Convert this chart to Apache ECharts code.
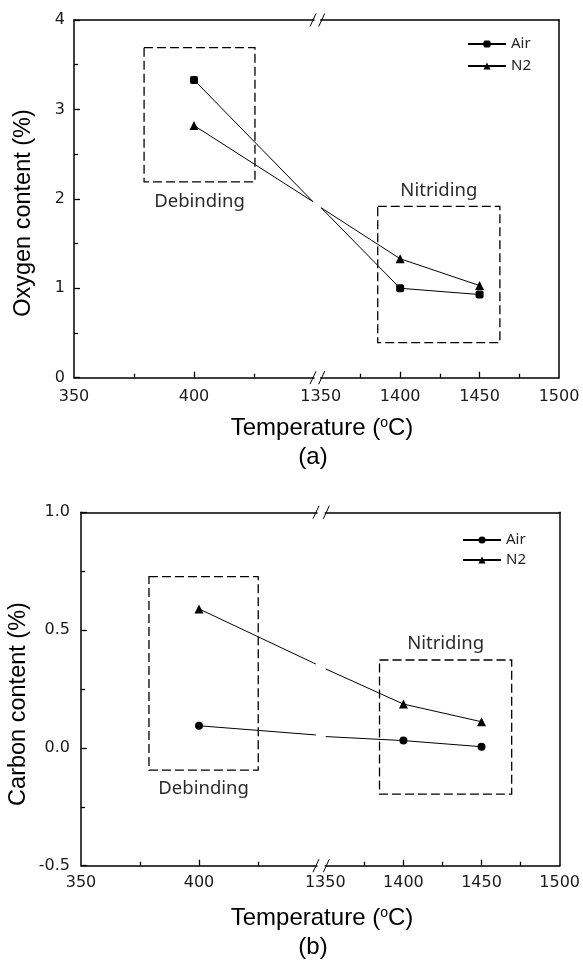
<!DOCTYPE html>
<html>
<head>
<meta charset="utf-8">
<script src="https://cdn.jsdelivr.net/npm/echarts@6.0.0/dist/echarts.min.js"></script>
<style>
  html, body { margin: 0; padding: 0; background: #fff; }
  #chartA { width: 583px; height: 483px; }
  #chartB { width: 583px; height: 480px; }
</style>
</head>
<body>
<div id="chartA"></div>
<div id="chartB"></div>
<script>
// shared x values (temperature, C)
var temps = [400, 1400, 1450];
var xLeftLabels = [350, 400];
var xRightLabels = [1350, 1400, 1450, 1500];
// where the lines get cut by the axis break (left side, right side)
var cutTemps = [449.5, 1350.3];

// (a) oxygen content
var oxygenAir = [3.33, 1.00, 0.93];
var oxygenN2 = [2.82, 1.33, 1.03];
var oxygenAirCut = [1.97, 1.90];
var oxygenN2Cut = [1.97, 1.90];

// (b) carbon content
var carbonAir = [0.094, 0.031, 0.005];
var carbonN2 = [0.59, 0.186, 0.111];
var carbonAirCut = [0.055, 0.048];
var carbonN2Cut = [0.356, 0.335];

// dashed boxes [x1, y1, x2, y2]
var oxyDebinding = [379.2, 3.69, 425.4, 2.19];
var oxyNitriding = [1385.9, 1.915, 1462.8, 0.392];
var carbDebinding = [378.8, 0.727, 425.1, -0.094];
var carbNitriding = [1384.7, 0.373, 1469.3, -0.196];

var black = '#000';
var axisLine = { show: true, onZero: false, lineStyle: { color: black, width: 1.5 } };
var tickLabel = { color: '#1a1a1a', fontFamily: 'DejaVu Sans', fontSize: 16 };
var titleFont = '24px "Liberation Sans"';

function splitSeries(vals, cut) {
  var left = [], right = [];
  temps.forEach(function (t, i) {
    (t < 1000 ? left : right).push([t, vals[i]]);
  });
  left.push({ value: [cutTemps[0], cut[0]], symbol: 'none' });
  right.unshift({ value: [cutTemps[1], cut[1]], symbol: 'none' });
  return [left, right];
}

function boxArea(b, text, pos, dist) {
  return {
    silent: true,
    itemStyle: { color: 'rgba(0,0,0,0)', borderColor: black, borderWidth: 1.3, borderType: [9, 4] },
    label: { show: true, position: pos, distance: dist, formatter: text,
      color: '#2b2b2b', fontFamily: 'Noto Sans', fontSize: 18.5 },
    emphasis: { disabled: true },
    data: [[{ coord: [b[0], b[1]] }, { coord: [b[2], b[3]] }]]
  };
}

function lineSeries(name, data, xi, sym, size, area) {
  return {
    name: name, type: 'line', xAxisIndex: xi, yAxisIndex: xi,
    data: data, symbol: sym, symbolSize: size,
    itemStyle: { color: black }, lineStyle: { color: black, width: 1 },
    emphasis: { disabled: true }, markArea: area
  };
}

function slash(x, y) {
  return { type: 'line', shape: { x1: x - 3, y1: y + 6.5, x2: x + 3, y2: y - 6.5 },
    style: { stroke: black, lineWidth: 1 } };
}

function centered(x, y, text, extra) {
  var style = { text: text, font: titleFont, fill: black,
    textAlign: 'center', textVerticalAlign: 'middle', align: 'center', verticalAlign: 'middle' };
  return Object.assign({ type: 'text', x: x, y: y, style: Object.assign(style, extra || {}) });
}

function buildOption(c) {
  var gLeft = { left: c.left, top: c.top, width: c.leftW, height: c.height };
  var gRight = { left: c.left + c.leftW + c.gap, top: c.top, width: c.rightW, height: c.height };
  var air = splitSeries(c.air, c.airCut);
  var n2 = splitSeries(c.n2, c.n2Cut);
  var xl = gLeft.left + gLeft.width, xr = gRight.left;
  var yt = c.top, yb = c.top + c.height;

  var xBase = { type: 'value', interval: 50, axisLine: axisLine, splitLine: { show: false },
    minorTick: { show: true, splitNumber: 2, length: 4, lineStyle: { color: black, width: 1.3 } } };
  var topAxis = { type: 'value', position: 'top', axisLine: axisLine, axisTick: { show: false },
    axisLabel: { show: false }, splitLine: { show: false } };
  var plain = function (v) { return String(v); };

  var yTitle = centered(c.yTitleX, c.yTitleY, c.yTitle, { font: '23.5px "Liberation Sans"' });
  yTitle.rotation = Math.PI / 2;

  return {
    animation: false,
    grid: [gLeft, gRight],
    legend: {
      orient: 'vertical', left: c.legendLeft, top: c.legendTop, padding: 0,
      itemWidth: 38, itemHeight: 9, itemGap: c.legendGap,
      textStyle: { color: '#222', fontFamily: 'Noto Sans', fontSize: 15 },
      data: ['Air', 'N2']
    },
    xAxis: [
      Object.assign({}, xBase, { gridIndex: 0, min: 350, max: 450,
        axisTick: { show: true, inside: true, length: 6, customValues: [400], lineStyle: { color: black, width: 1.3 } },
        axisLabel: Object.assign({ customValues: xLeftLabels, margin: c.xMargin, formatter: plain }, tickLabel) }),
      Object.assign({}, xBase, { gridIndex: 1, min: 1350, max: 1500,
        axisTick: { show: true, inside: true, length: 6, customValues: [1400, 1450], lineStyle: { color: black, width: 1.3 } },
        axisLabel: Object.assign({ customValues: xRightLabels, margin: c.xMargin, formatter: plain }, tickLabel) }),
      Object.assign({}, topAxis, { gridIndex: 0, min: 350, max: 450 }),
      Object.assign({}, topAxis, { gridIndex: 1, min: 1350, max: 1500 })
    ],
    yAxis: [
      { type: 'value', gridIndex: 0, min: c.yMin, max: c.yMax, interval: c.yStep,
        axisLine: axisLine, splitLine: { show: false },
        axisTick: { show: true, inside: true, length: 6, lineStyle: { color: black, width: 1.3 } },
        minorTick: { show: true, splitNumber: 2, length: 4, lineStyle: { color: black, width: 1.3 } },
        axisLabel: Object.assign({ margin: c.yMargin, formatter: c.yFmt }, tickLabel) },
      { type: 'value', gridIndex: 1, position: 'right', min: c.yMin, max: c.yMax,
        axisLine: axisLine, axisTick: { show: false }, axisLabel: { show: false }, splitLine: { show: false } }
    ],
    series: [
      lineSeries('Air', air[0], 0, c.airSymbol, 8, boxArea(c.debinding, 'Debinding', 'bottom', c.debDist)),
      lineSeries('Air', air[1], 1, c.airSymbol, 8, boxArea(c.nitriding, 'Nitriding', 'top', c.nitDist)),
      lineSeries('N2', n2[0], 0, 'triangle', 9),
      lineSeries('N2', n2[1], 1, 'triangle', 9)
    ],
    graphic: [
      slash(xl - 1, yt), slash(xr + 1, yt), slash(xl - 1, yb), slash(xr + 1, yb),
      yTitle,
      centered(322, c.xTitleY, 'Temperature ({s|o}C)', {
        rich: { s: { fontSize: 14, fontFamily: 'Liberation Sans', verticalAlign: 'top', lineHeight: 14 } } }),
      centered(313, c.xTitleY + 29, c.panel)
    ]
  };
}

var chartA = echarts.init(document.getElementById('chartA'));
chartA.setOption(buildOption({
  left: 74, top: 20, height: 357.7, leftW: 240, gap: 6.7, rightW: 238.3,
  yMin: 0, yMax: 4, yStep: 1, yFmt: function (v) { return String(v); },
  yMargin: 9, xMargin: 11,
  air: oxygenAir, n2: oxygenN2, airCut: oxygenAirCut, n2Cut: oxygenN2Cut,
  airSymbol: 'roundRect', debinding: oxyDebinding, nitriding: oxyNitriding,
  debDist: 10, nitDist: 6,
  legendLeft: 467, legendTop: 36.5, legendGap: 7,
  yTitle: 'Oxygen content (%)', yTitleX: 24, yTitleY: 213,
  xTitleY: 428, panel: '(a)'
}));

var chartB = echarts.init(document.getElementById('chartB'));
chartB.setOption(buildOption({
  left: 81, top: 29.3, height: 353.4, leftW: 236, gap: 8.3, rightW: 236.4,
  yMin: -0.5, yMax: 1.0, yStep: 0.5, yFmt: function (v) { return v.toFixed(1); },
  yMargin: 11, xMargin: 9,
  air: carbonAir, n2: carbonN2, airCut: carbonAirCut, n2Cut: carbonN2Cut,
  airSymbol: 'circle', debinding: carbDebinding, nitriding: carbNitriding,
  debDist: 9, nitDist: 6,
  legendLeft: 462, legendTop: 49.5, legendGap: 5,
  yTitle: 'Carbon content (%)', yTitleX: 19, yTitleY: 221,
  xTitleY: 435, panel: '(b)'
}));
</script>
</body>
</html>
